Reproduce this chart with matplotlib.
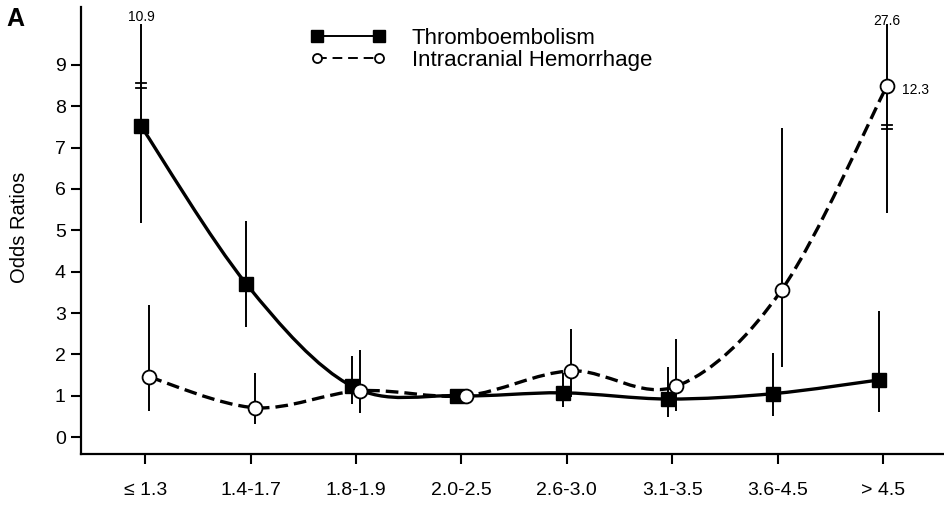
import numpy as np
import matplotlib
matplotlib.use('Agg')
from matplotlib import pyplot as plt
from matplotlib.path import Path
from matplotlib.patches import PathPatch
from matplotlib.lines import Line2D

plt.rcParams['font.family'] = ['Liberation Sans', 'DejaVu Sans']

# INR categories
categories = ['≤ 1.3', '1.4-1.7', '1.8-1.9', '2.0-2.5', '2.6-3.0', '3.1-3.5', '3.6-4.5', '> 4.5']

# Thromboembolism odds ratios and 95% CI (nan = reference group)
te_or = [7.52, 3.70, 1.23, 1.00, 1.07, 0.92, 1.05, 1.38]
te_lo = [5.18, 2.66, 0.80, np.nan, 0.72, 0.49, 0.50, 0.60]
te_hi = [10.0, 5.22, 1.96, np.nan, 1.55, 1.69, 2.04, 3.06]

# Intracranial hemorrhage odds ratios and 95% CI
ich_or = [1.45, 0.71, 1.12, 1.00, 1.60, 1.23, 3.56, 8.50]
ich_lo = [0.63, 0.31, 0.59, np.nan, 0.97, 0.63, 1.70, 5.42]
ich_hi = [3.20, 1.55, 2.10, np.nan, 2.62, 2.37, 7.48, 10.0]

# values beyond the axis break: (index, label)
te_hi_label = (0, '10.9')
te_break = (0, 8.5)
ich_or_label = (7, '12.3')
ich_hi_label = (7, '27.6')
ich_break = (7, 7.5)


def smooth_path(x, y):
    # Catmull-Rom spline drawn as cubic Bezier segments
    pts = np.column_stack([x, y])
    n = len(pts)
    verts = [pts[0]]
    codes = [Path.MOVETO]
    for i in range(n - 1):
        p0 = pts[max(i - 1, 0)]
        p1 = pts[i]
        p2 = pts[i + 1]
        p3 = pts[min(i + 2, n - 1)]
        c1 = p1 + (p2 - p0) / 6.0
        c2 = p2 - (p3 - p1) / 6.0
        verts += [c1, c2, p2]
        codes += [Path.CURVE4] * 3
    return Path(verts, codes)


fig = plt.figure(figsize=(9.44, 5.07), dpi=100)
ax = fig.add_axes([0.0858, 0.1045, 0.9142, 0.8817])

idx = np.arange(len(categories))
x_te = idx - 0.04
x_ich = idx + 0.04

# error bars
ax.vlines(x_te, te_lo, te_hi, color='black', lw=1.4, zorder=2)
ax.vlines(x_ich, ich_lo, ich_hi, color='black', lw=1.4, zorder=2)

# axis break marks
for xs, (i, yb) in [(x_te, te_break), (x_ich, ich_break)]:
    for dy in (-0.05, 0.05):
        ax.plot([xs[i] - 0.045, xs[i] + 0.045], [yb + dy, yb + dy], color='black', lw=1.3, zorder=3)

# smooth curves
ax.add_patch(PathPatch(smooth_path(x_te, te_or), facecolor='none', edgecolor='black', lw=2.4, zorder=3))
ax.add_patch(PathPatch(smooth_path(x_ich, ich_or), facecolor='none', edgecolor='black', lw=2.4,
                       linestyle=(0, (3.8, 1.8)), zorder=3))

ax.plot(x_te, te_or, 's', color='black', ms=10, zorder=4)
ax.plot(x_ich, ich_or, 'o', mfc='white', mec='black', mew=1.3, ms=10, zorder=4)

# labels for values beyond the break
i, t = te_hi_label
ax.text(x_te[i], 10.17, t, ha='center', va='center', fontsize=10)
i, t = ich_hi_label
ax.text(x_ich[i], 10.05, t, ha='center', va='center', fontsize=10)
i, t = ich_or_label
ax.text(x_ich[i] + 0.14, 8.4, t, ha='left', va='center', fontsize=10)

ax.set_xlim(-0.61, 7.58)
ax.set_ylim(-0.41, 10.4)
ax.set_xticks(idx)
ax.set_xticklabels(categories)
ax.set_yticks(range(10))
ax.set_ylabel('Odds Ratios', fontsize=14.5)
ax.yaxis.set_label_coords(-0.060, 0.508)

for side in ['top', 'right']:
    ax.spines[side].set_visible(False)
for side in ['left', 'bottom']:
    ax.spines[side].set_linewidth(1.6)
ax.tick_params(axis='both', direction='out', length=7, width=1.5, labelsize=14)
ax.tick_params(axis='x', pad=13)
ax.tick_params(axis='y', pad=4)

handles = [
    Line2D([], [], color='black', lw=1.4, marker='s', ms=8),
    Line2D([], [], color='black', lw=1.4, linestyle=(0, (5, 3)), marker='o', ms=6.5, mfc='white', mew=1.3),
]
ax.legend(handles, ['Thromboembolism', 'Intracranial Hemorrhage'], loc='upper left',
          bbox_to_anchor=(0.329, 0.945), bbox_transform=fig.transFigure, frameon=False,
          fontsize=16, numpoints=2, handlelength=3.4, handletextpad=1.15, labelspacing=0.05,
          borderpad=0, borderaxespad=0)

fig.text(0.007, 0.963, 'A', fontsize=18, fontweight='bold', va='center', ha='left')

fig.savefig('out.png', dpi=100)
